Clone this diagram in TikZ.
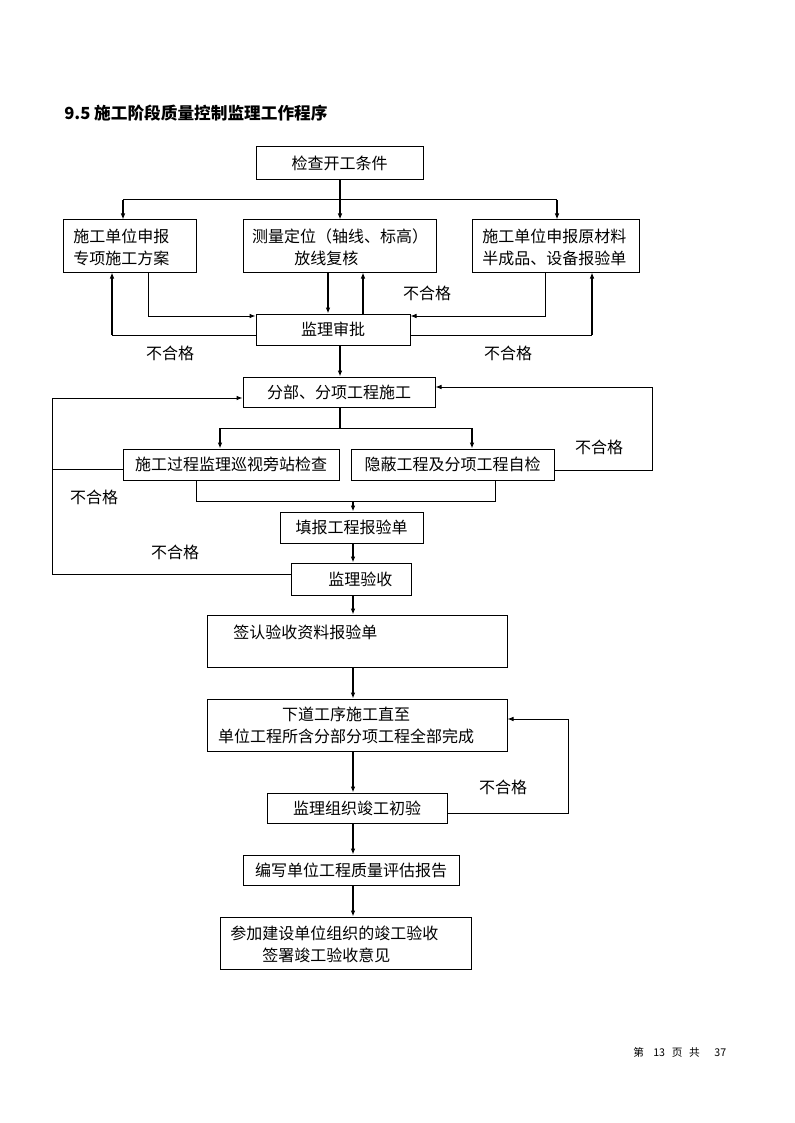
\documentclass[tikz,border=0pt]{standalone}
\usepackage{fontspec}
\setmainfont{Noto Sans CJK SC}
\usetikzlibrary{arrows.meta}
\begin{document}
\begin{tikzpicture}[x=0.75pt,y=-0.75pt,
  box/.style={draw,line width=0.75pt,inner sep=0pt,font=\fontsize{12}{16.5}\selectfont},
  wh/.style 2 args={minimum width={0.75pt*#1},minimum height={0.75pt*#2}},
  lbl/.style={inner sep=0pt,font=\fontsize{12}{16.5}\selectfont},
  arr/.style={-{Latex[length=4.5pt,width=3.5pt]}},
  thk/.style={line width=1.4pt},
  thn/.style={line width=0.75pt}]
\path[use as bounding box] (0,0) rectangle (794,1123);
% title
\node[lbl,anchor=west,font=\fontsize{12.5}{14}\selectfont\bfseries] (title) at (64,113) {9.5 施工阶段质量控制监理工作程序};
% boxes
\node[box,wh={167}{33}] (a) at (339.5,163.5) {检查开工条件};
\node[box,wh={133}{52}] (b1) at (129.5,246) {};
\node[box,wh={193}{52}] (b2) at (339.5,246) {};
\node[box,wh={167}{52}] (b3) at (555.5,246) {};
\node[box,wh={154}{31}] (c) at (333,329.5) {监理审批};
\node[box,wh={192}{30}] (d) at (339,392) {分部、分项工程施工};
\node[box,wh={216}{31}] (e1) at (231,464.5) {施工过程监理巡视旁站检查};
\node[box,wh={203}{31}] (e2) at (452.5,464.5) {隐蔽工程及分项工程自检};
\node[box,wh={143}{31}] (f1) at (351.5,527.5) {填报工程报验单};
\node[box,wh={120}{32}] (f2) at (351,579) {\hspace{14pt}监理验收};
\node[box,wh={300}{52}] (g) at (357,641) {};
\node[box,wh={300}{52}] (h) at (357,725) {};
\node[box,wh={180}{30}] (i) at (357,808) {监理组织竣工初验\hspace{10pt}};
\node[box,wh={216}{30}] (j) at (351,870) {编写单位工程质量评估报告};
\node[box,wh={251}{52}] (k) at (345.5,943) {};
% box texts
\node[lbl,anchor=west,align=left] (b1t) at (73,247) {施工单位申报\\专项施工方案};
\node[lbl] (b2t1) at (340,236) {测量定位（轴线、标高）};
\node[lbl,anchor=west] (b2t2) at (294,258) {放线复核};
\node[lbl,anchor=west,align=left] (b3t) at (482,247) {施工单位申报原材料\\半成品、设备报验单};
\node[lbl,anchor=west] (gt) at (233,632) {签认验收资料报验单};
\node[lbl,align=center] (ht) at (346,725) {下道工序施工直至\\单位工程所含分部分项工程全部完成};
\node[lbl,anchor=west] (kt1) at (230,933) {参加建设单位组织的竣工验收};
\node[lbl,anchor=west] (kt2) at (262,955) {签署竣工验收意见};
% first branch
\coordinate (ja) at (340,200);
\coordinate (t1) at (123,200);
\coordinate (t3) at (557,200);
\draw[thk] (ja |- a.south) -- (ja);
\draw[thn] (t1) -- (t3);
\draw[thk,arr] (t1) -- (t1 |- b1.north);
\draw[thk,arr] (ja) -- (ja |- b2.north);
\draw[thk,arr] (t3) -- (t3 |- b3.north);
% B -> C and returns
\coordinate (p1) at (148,316);
\coordinate (p3) at (545,316);
\coordinate (r1) at (112,335);
\coordinate (r3) at (592,335);
\draw[thn,arr] (p1 |- b1.south) -- (p1) -- (p1 -| c.west);
\draw[thn,arr] (p3 |- b3.south) -- (p3) -- (p3 -| c.east);
\draw[thn] (r1 -| c.west) -- (r1);
\draw[thk,arr] (r1) -- (r1 |- b1.south);
\draw[thn] (r3 -| c.east) -- (r3);
\draw[thk,arr] (r3) -- (r3 |- b3.south);
\coordinate (q1) at (328,300);
\coordinate (q2) at (363,300);
\draw[thk,arr] (q1 |- b2.south) -- (q1 |- c.north);
\draw[thk,arr] (q2 |- c.north) -- (q2 |- b2.south);
\node[lbl] (n1) at (427,293) {不合格};
\node[lbl] (n2) at (170,353) {不合格};
\node[lbl] (n3) at (508,353) {不合格};
% C -> D -> E
\coordinate (m1) at (340,360);
\draw[thk,arr] (m1 |- c.south) -- (m1 |- d.north);
\coordinate (jd) at (340,428);
\coordinate (u1) at (220,428);
\coordinate (u2) at (472,428);
\draw[thk] (jd |- d.south) -- (jd);
\draw[thn] (u1) -- (u2);
\draw[thk,arr] (u1) -- (u1 |- e1.north);
\draw[thk,arr] (u2) -- (u2 |- e2.north);
% E2 return
\coordinate (v1) at (652,470);
\coordinate (v2) at (652,387);
\draw[thn,arr] (v1 -| e2.east) -- (v1) -- (v2) -- (v2 -| d.east);
\node[lbl] (n4) at (599,447) {不合格};
% left return
\coordinate (w1) at (52,574);
\coordinate (w2) at (52,398);
\coordinate (w3) at (52,469);
\draw[thn,arr] (w1 -| f2.west) -- (w1) -- (w2) -- (w2 -| d.west);
\draw[thn] (w3 -| e1.west) -- (w3);
\node[lbl] (n5) at (94,497) {不合格};
\node[lbl] (n6) at (175,552) {不合格};
% E merge -> F1
\coordinate (x1) at (196,501);
\coordinate (x2) at (495,501);
\coordinate (mx) at (353,501);
\draw[thn] (x1 |- e1.south) -- (x1) -- (x2) -- (x2 |- e2.south);
\draw[thk,arr] (mx) -- (mx |- f1.north);
% main spine
\coordinate (ml) at (353,600);
\draw[thk,arr] (ml |- f1.south) -- (ml |- f2.north);
\draw[thk,arr] (ml |- f2.south) -- (ml |- g.north);
\draw[thk,arr] (ml |- g.south) -- (ml |- h.north);
\draw[thk,arr] (ml |- h.south) -- (ml |- i.north);
\draw[thk,arr] (ml |- i.south) -- (ml |- j.north);
\draw[thk,arr] (ml |- j.south) -- (ml |- k.north);
% I return
\coordinate (y1) at (568,813);
\coordinate (y2) at (568,719);
\draw[thn,arr] (y1 -| i.east) -- (y1) -- (y2) -- (y2 -| h.east);
\node[lbl] (n7) at (503,787) {不合格};
% footer
\node[inner sep=0pt,anchor=west,font=\fontsize{8}{10}\selectfont] (foot) at (633,1052) {第\hspace{7pt}13\hspace{5pt}页\hspace{5pt}共\hspace{11pt}37};
\end{tikzpicture}
\end{document}
